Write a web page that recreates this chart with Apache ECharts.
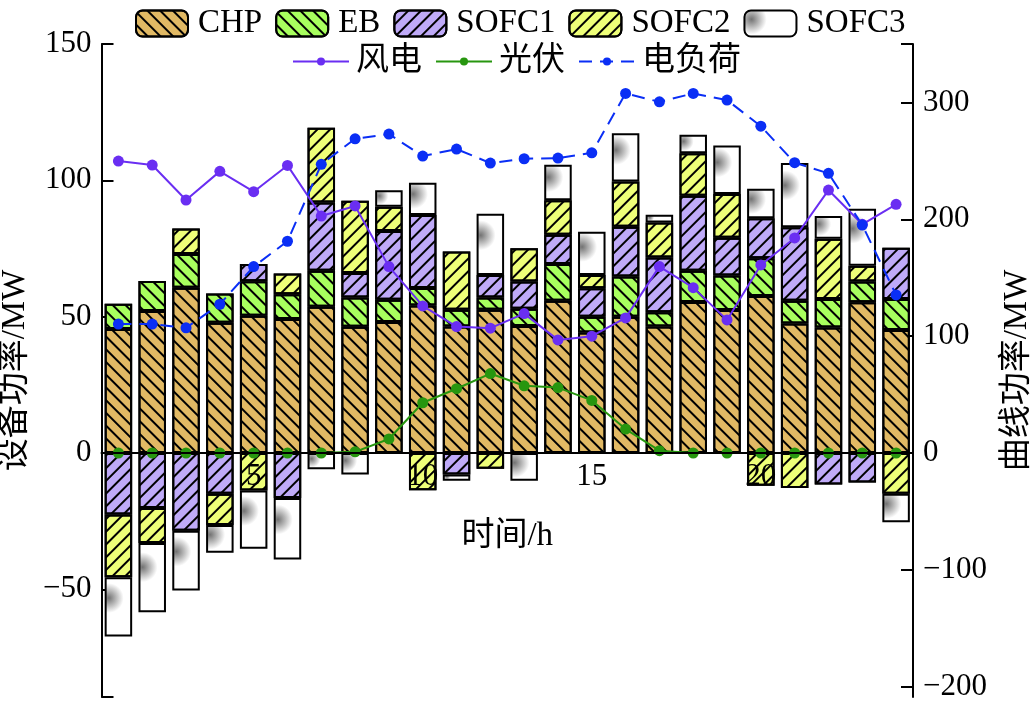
<!DOCTYPE html>
<html><head><meta charset="utf-8">
<script src="https://cdn.jsdelivr.net/npm/echarts@6/dist/echarts.min.js"></script>
<style>html,body{margin:0;padding:0;background:#fff}#c{width:1035px;height:705px}</style>
</head><body><div id="c"></div>
<script>
const hours = ['1','2','3','4','5','6','7','8','9','10','11','12','13','14','15','16','17','18','19','20','21','22','23','24'];
const CHP   = [45.5,52.1,60.6,47.8,50.3,49.1,53.6,46.3,48.0,54.1,46.4,52.5,46.6,55.8,44.2,50.0,46.4,55.4,52.4,57.6,47.5,46.0,55.3,45.1];
const EB    = [9.2,11.0,12.4,10.7,12.7,9.1,13.2,10.7,8.2,6.4,6.1,4.5,6.3,13.5,5.8,14.7,5.2,11.4,12.7,13.8,8.3,10.5,7.6,11.4];
const SOFC1 = [-22.6,-20.2,-28.5,-15.0,6.3,-16.5,25.1,9.0,25.2,26.8,-7.9,8.3,10.0,10.7,10.4,18.3,20.1,27.5,13.8,14.7,27.0,-11.6,-10.8,18.8];
const SOFC2 = [-23.0,-12.8,9.3,-11.4,-13.8,7.6,27.4,26.5,8.9,-13.7,21.4,-5.8,12.2,12.7,4.9,16.6,12.8,15.6,16.1,-12.0,-12.8,22.1,5.8,-15.0];
const SOFC3 = [-21.7,-25.4,-21.9,-10.2,-21.3,-22.6,-6.0,-7.9,6.1,11.8,-2.3,22.4,-10.2,13.0,15.8,17.7,2.9,6.8,17.8,10.8,23.6,8.3,20.9,-10.4];
const wind  = [249.8,246.4,216.5,241.0,223.6,246.1,202.8,211.4,159.5,125.9,108.2,106.8,119.3,96.8,100.0,115.6,159.5,141.5,113.9,160.9,184.0,225.0,195.7,212.8];
const pv    = [0,0,0,0,0,0,0,1,12,43,55,68,57.5,56,45,20.5,2,0,0,0,0,0,0,0];
const load  = [110.3,110.3,107.1,127.3,159.5,181.2,247,268.9,272.9,254.1,260.1,248.1,251.8,252.4,256.9,307.7,300.5,307.7,302,279.7,248.4,239.3,195.1,135.3];
const xTickLabels = ['5','10','15','20'];
const leftTickLabels = [-50,0,50,100,150];
const rightTickLabels = [-200,-100,0,100,200,300];

const FONT = 'Liberation Serif, "Noto Sans CJK SC", serif';
const LEFT_MIN = -89.5, LEFT_MAX = 150, RIGHT_MIN = -208.8, RIGHT_MAX = 350;
const GRID_TOP = 44, GRID_BOTTOM = 8, H = 705;
const minus = v => v < 0 ? '\u2212' + Math.abs(v) : String(v);
const stripe = (rot) => ({symbol:'rect', symbolSize:1, color:'#000', dashArrayX:[1,0], dashArrayY:[1.8,6.8], rotation:rot});
const showX = (i, v) => xTickLabels.indexOf(String(v)) >= 0;
// distance from grid bottom up to the zero line of the left axis
const plotH = H - GRID_TOP - GRID_BOTTOM;
const zeroOffset = plotH * (0 - LEFT_MIN) / (LEFT_MAX - LEFT_MIN);

function bar(name, data, color, decal){
  return {name, type:'bar', stack:'p', barWidth:27.5, data, z:2,
    itemStyle:{color, borderColor:'#000', borderWidth:2, decal}};
}
function line(name, data, color, dash){
  return {name, type:'line', yAxisIndex:1, data, z:5, symbol:'circle', symbolSize:11,
    itemStyle:{color}, lineStyle:{color, width:2, type: dash ? [13,8] : 'solid'}};
}
const sofc3Fill = {type:'radial', x:0.15, y:0.35, r:0.9, colorStops:[
  {offset:0, color:'#737373'},{offset:0.6, color:'#ffffff'},{offset:1, color:'#ffffff'}]};

const chart = echarts.init(document.getElementById('c'));
chart.setOption({
  animation:false,
  textStyle:{fontFamily:FONT},
  grid:{left:101.5, right:122, top:GRID_TOP, bottom:GRID_BOTTOM, containLabel:false, outerBoundsMode:'none'},
  legend:[
    {data:['CHP','EB','SOFC1','SOFC2','SOFC3'], left:130, top:2, itemWidth:52, itemHeight:26, itemGap:13,
     textStyle:{fontSize:33, fontFamily:FONT, color:'#000', padding:[0,0,0,5]}},
    {data:['风电','光伏','电负荷'], left:287, top:40, itemWidth:56, itemHeight:10, itemGap:13,
     textStyle:{fontSize:33, fontFamily:FONT, color:'#000', padding:[0,0,0,2]}}
  ],
  xAxis:{type:'category', data:hours, boundaryGap:true, position:'bottom', offset:-zeroOffset, z:6,
    name:'时间/h', nameLocation:'middle', nameGap:67, nameTextStyle:{fontSize:33, fontFamily:FONT, color:'#000'},
    axisLine:{onZero:false, lineStyle:{color:'#000', width:2}},
    axisTick:{inside:true, length:12, alignWithLabel:true, interval:showX, lineStyle:{color:'#000', width:2}},
    axisLabel:{fontSize:31, color:'#000', fontFamily:FONT, margin:8, interval:showX},
    splitLine:{show:false}},
  yAxis:[
    {type:'value', min:LEFT_MIN, max:LEFT_MAX, position:'left',
     name:'设备功率/MW', nameLocation:'middle', nameGap:70, nameRotate:90,
     nameTextStyle:{fontSize:33, fontFamily:FONT, color:'#000'},
     axisLine:{show:true, onZero:false, lineStyle:{color:'#000', width:2}},
     axisTick:{show:true, inside:true, length:12, lineStyle:{color:'#000', width:2}, customValues:[LEFT_MIN].concat(leftTickLabels)},
     axisLabel:{fontSize:31, color:'#000', fontFamily:FONT, margin:10, customValues:leftTickLabels, formatter:minus},
     splitLine:{show:false}},
    {type:'value', min:RIGHT_MIN, max:RIGHT_MAX, position:'right',
     name:'曲线功率/MW', nameLocation:'middle', nameGap:88, nameRotate:90,
     nameTextStyle:{fontSize:33, fontFamily:FONT, color:'#000'},
     axisLine:{show:true, onZero:false, lineStyle:{color:'#000', width:2}},
     axisTick:{show:true, inside:true, length:12, lineStyle:{color:'#000', width:2}, customValues:rightTickLabels.concat([RIGHT_MAX])},
     axisLabel:{fontSize:31, color:'#000', fontFamily:FONT, margin:10, customValues:rightTickLabels, formatter:minus},
     splitLine:{show:false}}
  ],
  series:[
    bar('CHP', CHP, '#E1B964', stripe(Math.PI/4)),
    bar('EB', EB, '#A8FF5E', stripe(Math.PI/4)),
    bar('SOFC1', SOFC1, '#BFAAF8', stripe(-Math.PI/4)),
    bar('SOFC2', SOFC2, '#EEFF78', stripe(-Math.PI/4)),
    bar('SOFC3', SOFC3, sofc3Fill, null),
    line('风电', wind, '#6A2EF2', false),
    line('光伏', pv, '#27960F', false),
    line('电负荷', load, '#0A2EF5', true)
  ]
});
</script></body></html>
